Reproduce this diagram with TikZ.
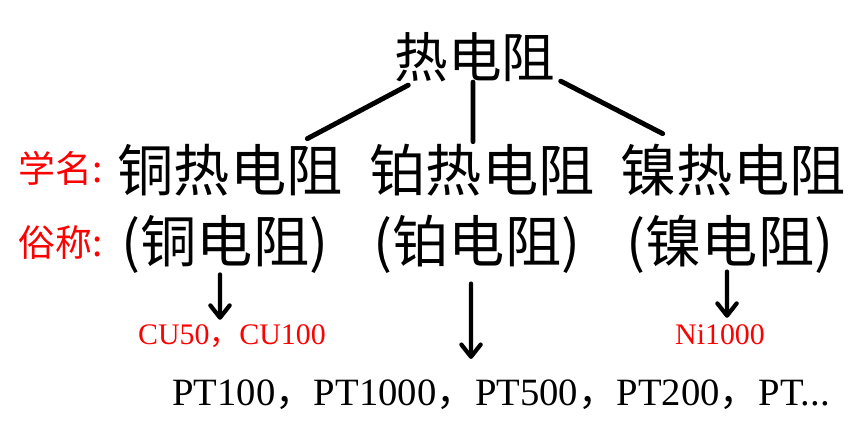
\documentclass[tikz,border=0pt]{standalone}
\usepackage{fontspec}
\setmainfont{Liberation Serif}
\newfontfamily\cjk{Noto Sans CJK SC}
\usetikzlibrary{arrows.meta}

\begin{document}
\begin{tikzpicture}[x=0.02cm, y=-0.02cm,
    link/.style={line width=2.8pt, line cap=round},
    pointer/.style={line width=2.4pt, line cap=round, -{Straight Barb[length=7pt,width=11pt,round]}},
    family/.style={inner sep=0pt, font=\cjk\fontsize{32}{32}\selectfont},
    tag/.style={inner sep=0pt, anchor=west, text=red, font=\cjk\fontsize{21}{21}\selectfont},
    code/.style={inner sep=0pt, anchor=base}]
    \useasboundingbox (0,0) rectangle (864,441);

    % Raiz
    \node[inner sep=0pt, font=\cjk\fontsize{30.5}{30.5}\selectfont] (rtd) at (475,57) {热电阻};

    % Nombres
    \node[tag] (sci) at (18,168) {学名:};
    \node[family] (cu) at (230,170) {铜热电阻};
    \node[family] (pt) at (482,170) {铂热电阻};
    \node[family] (ni) at (733,170) {镍热电阻};

    \node[tag] (common) at (18,243) {俗称:};
    \node[family] (cualias) at (225,244) {(铜电阻)};
    \node[family] (ptalias) at (477,244) {(铂电阻)};
    \node[family] (nialias) at (730,244) {(镍电阻)};

    % Ramas
    \draw[link] ([xshift=0.28cm,yshift=-0.06cm]rtd.south west) -- ([xshift=-0.71cm,yshift=0.1cm]cu.north east);
    \draw[link] ([xshift=-0.04cm,yshift=0.0cm]rtd.south) -- ([xshift=-0.18cm,yshift=0.04cm]pt.north);
    \draw[link] ([xshift=0.1cm,yshift=0.02cm]rtd.south east) -- ([xshift=0.85cm,yshift=0.2cm]ni.north west);

    % Modelos
    \node[code, text=red, font=\fontsize{17}{17}\selectfont] (cucode) at (232,344) {CU50{\cjk ，}CU100};
    \node[code, text=red, font=\fontsize{17}{17}\selectfont] (nicode) at (720,344) {Ni1000};
    \node[code, font=\fontsize{22}{22}\selectfont] (ptcode) at (501,405) {PT100{\cjk ，}PT1000{\cjk ，}PT500{\cjk ，}PT200{\cjk ，}PT...};

    % Flechas
    \draw[pointer] ([xshift=-0.1cm,yshift=-0.02cm]cualias.south) -- ([xshift=-0.24cm,yshift=0.08cm]cucode.north);
    \draw[pointer] ([xshift=-0.12cm,yshift=-0.2cm]ptalias.south) -- ([xshift=-0.6cm,yshift=0.4cm]ptcode.north);
    \draw[pointer] ([xshift=-0.06cm,yshift=0.04cm]nialias.south) -- ([xshift=0.14cm,yshift=0.12cm]nicode.north);
\end{tikzpicture}
\end{document}
